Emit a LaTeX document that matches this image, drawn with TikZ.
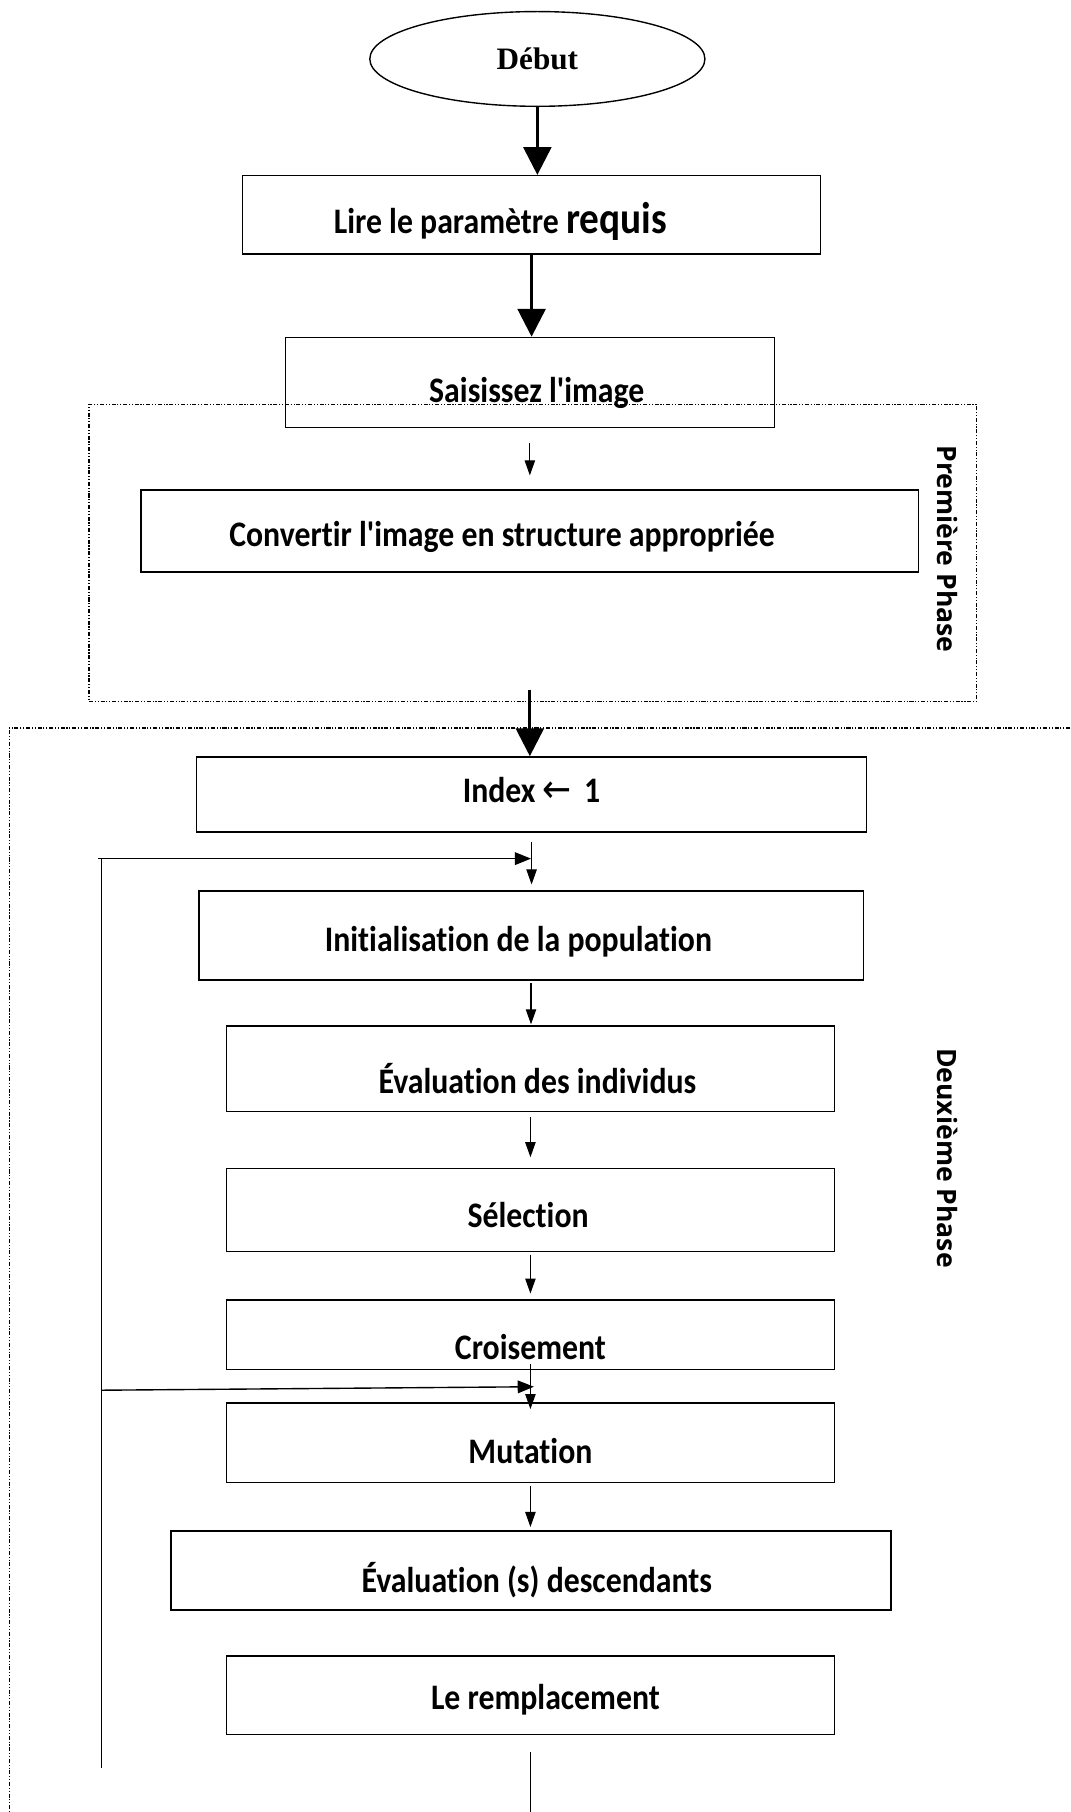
\documentclass[tikz,border=0pt]{standalone}
\usepackage{fontspec}
\setmainfont{Carlito}[Ligatures={NoCommon}]
\newfontfamily\serifb{Liberation Serif}
\newfontfamily\phasefont{Open Sans}[BoldFont={Open Sans Bold}]
\newfontfamily\symfont{DejaVu Sans}
\usetikzlibrary{arrows.meta,shapes.geometric,calc}
% step captions are set slightly taller than the font's own proportions
\newcommand{\tall}[1]{\scalebox{1}[1.13]{#1}}
\newcommand{\apos}{\textquotesingle}

\begin{document}
\begin{tikzpicture}[x=1pt,y=-1pt,
  box/.style={draw, line width=1.3pt, rectangle, inner sep=0pt},
  lbl/.style={font=\fontsize{27.5}{30}\selectfont\bfseries, inner sep=0pt},
  bigarrow/.style={line width=2.6pt, -{Triangle[length=24pt,width=24pt]}},
  thinarrow/.style={line width=0.9pt, -{Triangle[length=13pt,width=9pt]}},
  fbarrow/.style={line width=1.2pt, -{Triangle[length=14pt,width=11pt]}},
  phase/.style={draw, line width=1pt, dash pattern=on 3.5pt off 1.5pt on 1pt off 1.5pt on 1pt off 1.5pt},
  phaselbl/.style={font=\phasefont\fontsize{23}{24}\selectfont\bfseries, rotate=-90, inner sep=0pt},
]
\useasboundingbox (0,0) rectangle (926,1568);

% phase frames
\node[phase, rectangle, inner sep=0pt, minimum width=768pt, minimum height=257pt] (phase1) at (461,478.5) {};
\coordinate (p2right) at (926,630);
\coordinate (p2corner) at (8,630);
\coordinate (p2bottom) at (8,1568);
\draw[phase] (p2right) -- (p2corner) -- (p2bottom);
\node[phaselbl] (p1lbl) at (820,475) {Première Phase};
\node[phaselbl] (p2lbl) at (820,1002) {Deuxième Phase};

% start
\node[draw, ellipse, line width=1.2pt, minimum width=290pt, minimum height=82pt, inner sep=0pt,
      font=\serifb\fontsize{27}{29}\selectfont\bfseries] (debut) at (465,51) {Début};

% steps
\node[box, minimum width=500pt, minimum height=68pt,
      label={[lbl, xshift=-27pt, yshift=-6pt]center:\tall{Lire le paramètre {\fontsize{34}{36}\selectfont requis}}}] (lire) at (460,186) {};
\node[box, minimum width=423pt, minimum height=78pt,
      label={[lbl, xshift=6pt, yshift=-9pt]center:\tall{Saisissez l\apos image}}] (sais) at (458.5,331) {};
\node[box, minimum width=673pt, minimum height=71pt,
      label={[lbl, xshift=-24pt, yshift=-5pt]center:\tall{Convertir l\apos image en structure appropriée}}] (conv) at (458.5,459.5) {};
\node[box, minimum width=580pt, minimum height=65pt,
      label={[lbl, xshift=0pt, yshift=4pt]center:\tall{Index {\symfont\mdseries\fontsize{30}{32}\selectfont ←}\ \,1}}] (index) at (460,687.5) {};
\node[box, minimum width=575pt, minimum height=77pt,
      label={[lbl, xshift=-11pt, yshift=-5pt]center:\tall{Initialisation de la population}}] (init) at (459.5,809.5) {};
\node[box, minimum width=526pt, minimum height=74pt,
      label={[lbl, xshift=6pt, yshift=-8pt]center:\tall{Évaluation des individus}}] (eval) at (459,925) {};
\node[box, minimum width=526pt, minimum height=72pt,
      label={[lbl, xshift=-2pt, yshift=-4pt]center:\tall{Sélection}}] (sel) at (459,1047) {};
\node[box, minimum width=526pt, minimum height=60pt,
      label={[lbl, xshift=0pt, yshift=-11pt]center:\tall{Croisement}}] (crois) at (459,1155) {};
\node[box, minimum width=526pt, minimum height=69pt,
      label={[lbl, xshift=0pt, yshift=-7pt]center:\tall{Mutation}}] (mut) at (459,1248.5) {};
\node[box, minimum width=623pt, minimum height=68pt,
      label={[lbl, xshift=5pt, yshift=-8pt]center:\tall{Évaluation (s) descendants}}] (evals) at (459.5,1359) {};
\node[box, minimum width=526pt, minimum height=68pt,
      label={[lbl, xshift=13pt, yshift=-4pt]center:\tall{Le remplacement}}] (remp) at (459,1467) {};

% main flow
\draw[bigarrow] (debut.south) -- (debut.south |- lire.north);
\draw[bigarrow] (lire.south) -- (lire.south |- sais.north);
\draw[thinarrow, shorten <=13pt, shorten >=12pt] (sais.south) -- (sais.south |- conv.north);
\draw[bigarrow, shorten <=101pt] (conv.south) -- (conv.south |- index.north);
\draw[thinarrow, shorten <=8pt, shorten >=5pt] (index.south) -- (index.south |- init.north);
\draw[thinarrow, shorten <=2pt, shorten >=1pt] (init.south) -- (init.south |- eval.north);
\draw[thinarrow, shorten <=4pt, shorten >=9pt] (eval.south) -- (eval.south |- sel.north);
\draw[thinarrow, shorten <=2pt, shorten >=5pt] (sel.south) -- (sel.south |- crois.north);
\draw[thinarrow, shorten <=-5pt, shorten >=-6pt] (crois.south) -- (crois.south |- mut.north);
\draw[thinarrow, shorten <=2pt, shorten >=3pt] (mut.south) -- (mut.south |- evals.north);
\coordinate (exit) at (459,1568);
\draw[line width=0.9pt, shorten <=14pt] (remp.south) -- (exit);

% loop back lines
\coordinate (fbbot) at (88,1530);
\coordinate (fbtop) at (88,743);
\coordinate (fbstart) at (85,743);
\coordinate (fbmid) at (88,1203);
\draw[line width=1.2pt] (fbbot) -- (fbtop);
\draw[fbarrow] (fbstart) -- (fbstart -| init.north);
\draw[fbarrow] (fbmid) -- ([xshift=3pt, yshift=3pt]fbmid -| mut.north);
\end{tikzpicture}
\end{document}
